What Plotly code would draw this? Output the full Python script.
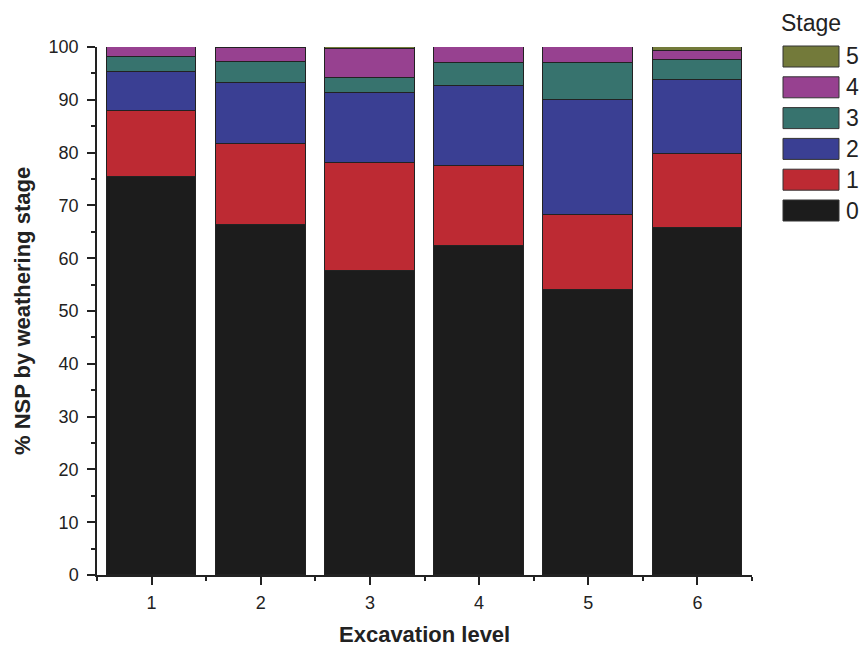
import plotly.graph_objects as go

levels = [1, 2, 3, 4, 5, 6]
stage0 = [75.4, 66.2, 57.6, 62.4, 54.0, 65.8]
stage1 = [12.5, 15.4, 20.5, 15.1, 14.2, 13.9]
stage2 = [7.3, 11.5, 13.2, 15.1, 21.8, 14.0]
stage3 = [3.0, 4.1, 2.8, 4.4, 7.0, 3.9]
stage4 = [1.8, 2.7, 5.6, 3.0, 3.0, 1.6]
stage5 = [0.0, 0.1, 0.3, 0.0, 0.0, 0.8]
stage_names = ["0", "1", "2", "3", "4", "5"]
colors = ["#1c1c1c", "#bd2a33", "#3a3f93", "#37736e", "#974190", "#737a3a"]

series = [stage0, stage1, stage2, stage3, stage4, stage5]

fig = go.Figure()
for name, vals, col in zip(stage_names, series, colors):
    fig.add_trace(go.Bar(
        x=levels, y=vals, name=name, width=0.82,
        marker=dict(color=col, line=dict(color="#222222", width=1)),
        showlegend=False,
    ))

FONT = "Liberation Sans, Arial, sans-serif"

L, R, T, B = 97, 752, 47, 575
W, H = R - L, B - T
def px(x):
    return (x - L) / W
def py(y):
    return (B - y) / H

shapes = []
annotations = []
# custom legend (top = stage 5)
for i, (name, col) in enumerate(reversed(list(zip(stage_names, colors)))):
    top = 46 + i * 30.8
    shapes.append(dict(type="rect", xref="paper", yref="paper",
                       x0=px(783), x1=px(839), y0=py(top + 21), y1=py(top),
                       fillcolor=col, line=dict(color="#333333", width=1)))
    annotations.append(dict(xref="paper", yref="paper", x=px(844), y=py(top + 10.5),
                            text=name, showarrow=False, xanchor="left", yanchor="middle",
                            font=dict(family=FONT, size=23, color="#222222")))
annotations.append(dict(xref="paper", yref="paper", x=px(779), y=py(23),
                        text="Stage", showarrow=False, xanchor="left", yanchor="middle",
                        font=dict(family=FONT, size=23, color="#222222")))
# axis titles
annotations.append(dict(xref="paper", yref="paper", x=0.5, y=py(634),
                        text="<b>Excavation level</b>", showarrow=False,
                        xanchor="center", yanchor="middle",
                        font=dict(family=FONT, size=22, color="#222222")))
annotations.append(dict(xref="paper", yref="paper", x=px(22), y=0.5,
                        text="<b>% NSP by weathering stage</b>", showarrow=False,
                        textangle=-90, xanchor="center", yanchor="middle",
                        font=dict(family=FONT, size=22, color="#222222")))

fig.update_layout(
    barmode="stack",
    width=861, height=646,
    margin=dict(l=L, r=861 - R, t=T, b=646 - B, autoexpand=False),
    paper_bgcolor="white", plot_bgcolor="white",
    font=dict(family=FONT, size=18, color="#222222"),
    shapes=shapes, annotations=annotations,
    bargap=0,
)
fig.update_xaxes(
    range=[0.5, 6.5], tickvals=levels, ticks="outside", ticklen=8, tickwidth=1.5,
    tickcolor="#222222", showline=True, linecolor="#222222", linewidth=1.5,
    showgrid=False, zeroline=False, automargin=False,
    minor=dict(tickvals=[0.5, 1.5, 2.5, 3.5, 4.5, 5.5, 6.5], ticklen=4, tickwidth=1.5,
               ticks="outside", tickcolor="#222222"),
    tickfont=dict(size=18), ticklabelstandoff=3,
)
fig.update_yaxes(
    range=[0, 100], dtick=10, ticks="outside", ticklen=8, tickwidth=1.5,
    tickcolor="#222222", showline=True, linecolor="#222222", linewidth=1.5,
    showgrid=False, zeroline=False, automargin=False,
    minor=dict(dtick=5, ticklen=4, tickwidth=1.5, ticks="outside", tickcolor="#222222"),
    tickfont=dict(size=18), ticklabelstandoff=5,
)

fig.write_html("out.html", post_script="document.body.style.margin='0';",
               config={"displayModeBar": False})
